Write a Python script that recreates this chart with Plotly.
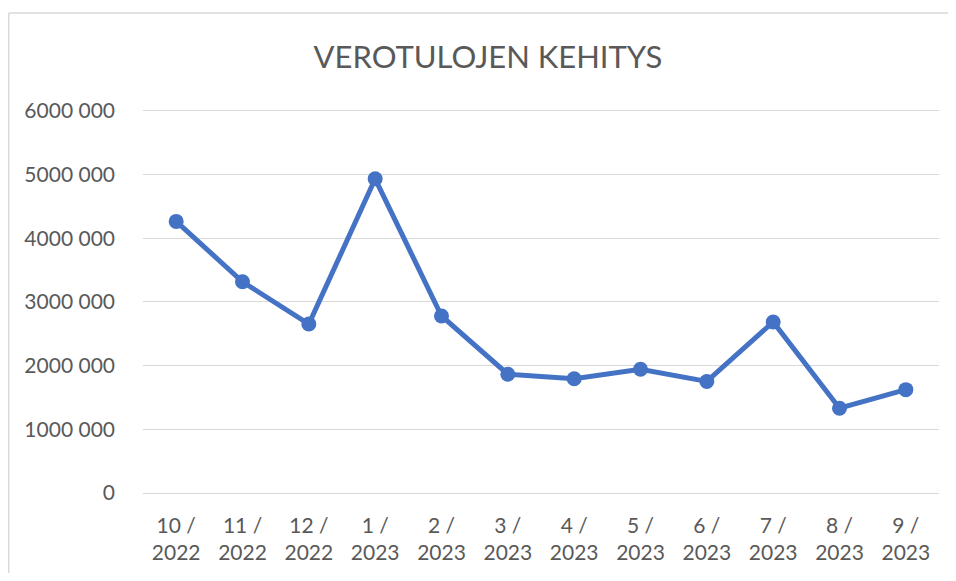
import plotly.graph_objects as go

months = ["10 /<br>2022", "11 /<br>2022", "12 /<br>2022", "1 /<br>2023",
          "2 /<br>2023", "3 /<br>2023", "4 /<br>2023", "5 /<br>2023",
          "6 /<br>2023", "7 /<br>2023", "8 /<br>2023", "9 /<br>2023"]
tulot = [4265000, 3317000, 2653000, 4934000, 2780000, 1865000,
         1794000, 1943000, 1752000, 2685000, 1332000, 1623000]

tick_vals = [0, 1000000, 2000000, 3000000, 4000000, 5000000, 6000000]
tick_text = ["0", "1000 000", "2000 000", "3000 000", "4000 000", "5000 000", "6000 000"]

fig = go.Figure()
fig.add_trace(go.Scatter(
    x=months, y=tulot, mode="lines+markers",
    line=dict(color="#4472C4", width=5),
    marker=dict(color="#4472C4", size=15),
))

# page body has an 8px margin, so the figure is kept inside the window
# chart frame: only left and top edges are visible in the reference
frame = dict(color="#d9d9d9", width=1.5)
fig.update_layout(
    width=940, height=565,
    margin=dict(l=135, r=9, t=101, b=74),
    paper_bgcolor="white", plot_bgcolor="white",
    font=dict(family="Lato", color="#595959", size=21),
    showlegend=False,
    title=dict(text="VEROTULOJEN KEHITYS", x=0.5106, xanchor="center",
               y=0.913, yanchor="middle", yref="container",
               font=dict(size=31, color="#595959", family="Lato")),
    shapes=[
        dict(type="line", xref="paper", yref="paper",
             x0=-0.1687, x1=-0.1687, y0=-0.3, y1=1.25, line=frame),
        dict(type="line", xref="paper", yref="paper",
             x0=-0.1687, x1=1.2, y0=1.25, y1=1.25, line=frame),
    ],
)
fig.update_xaxes(type="category", range=[-0.5, 11.5], showgrid=False,
                 showline=False, ticks="", ticklabelstandoff=18)
# top of range a bit above 6M so its gridline is not clipped
fig.update_yaxes(range=[0, 6030000], tickvals=tick_vals, ticktext=tick_text,
                 showgrid=True, gridcolor="#d9d9d9", gridwidth=1.3,
                 zeroline=True, zerolinecolor="#d9d9d9", zerolinewidth=1.3,
                 showline=False, ticks="", ticklabelstandoff=27)

fig.write_html("out.html")
